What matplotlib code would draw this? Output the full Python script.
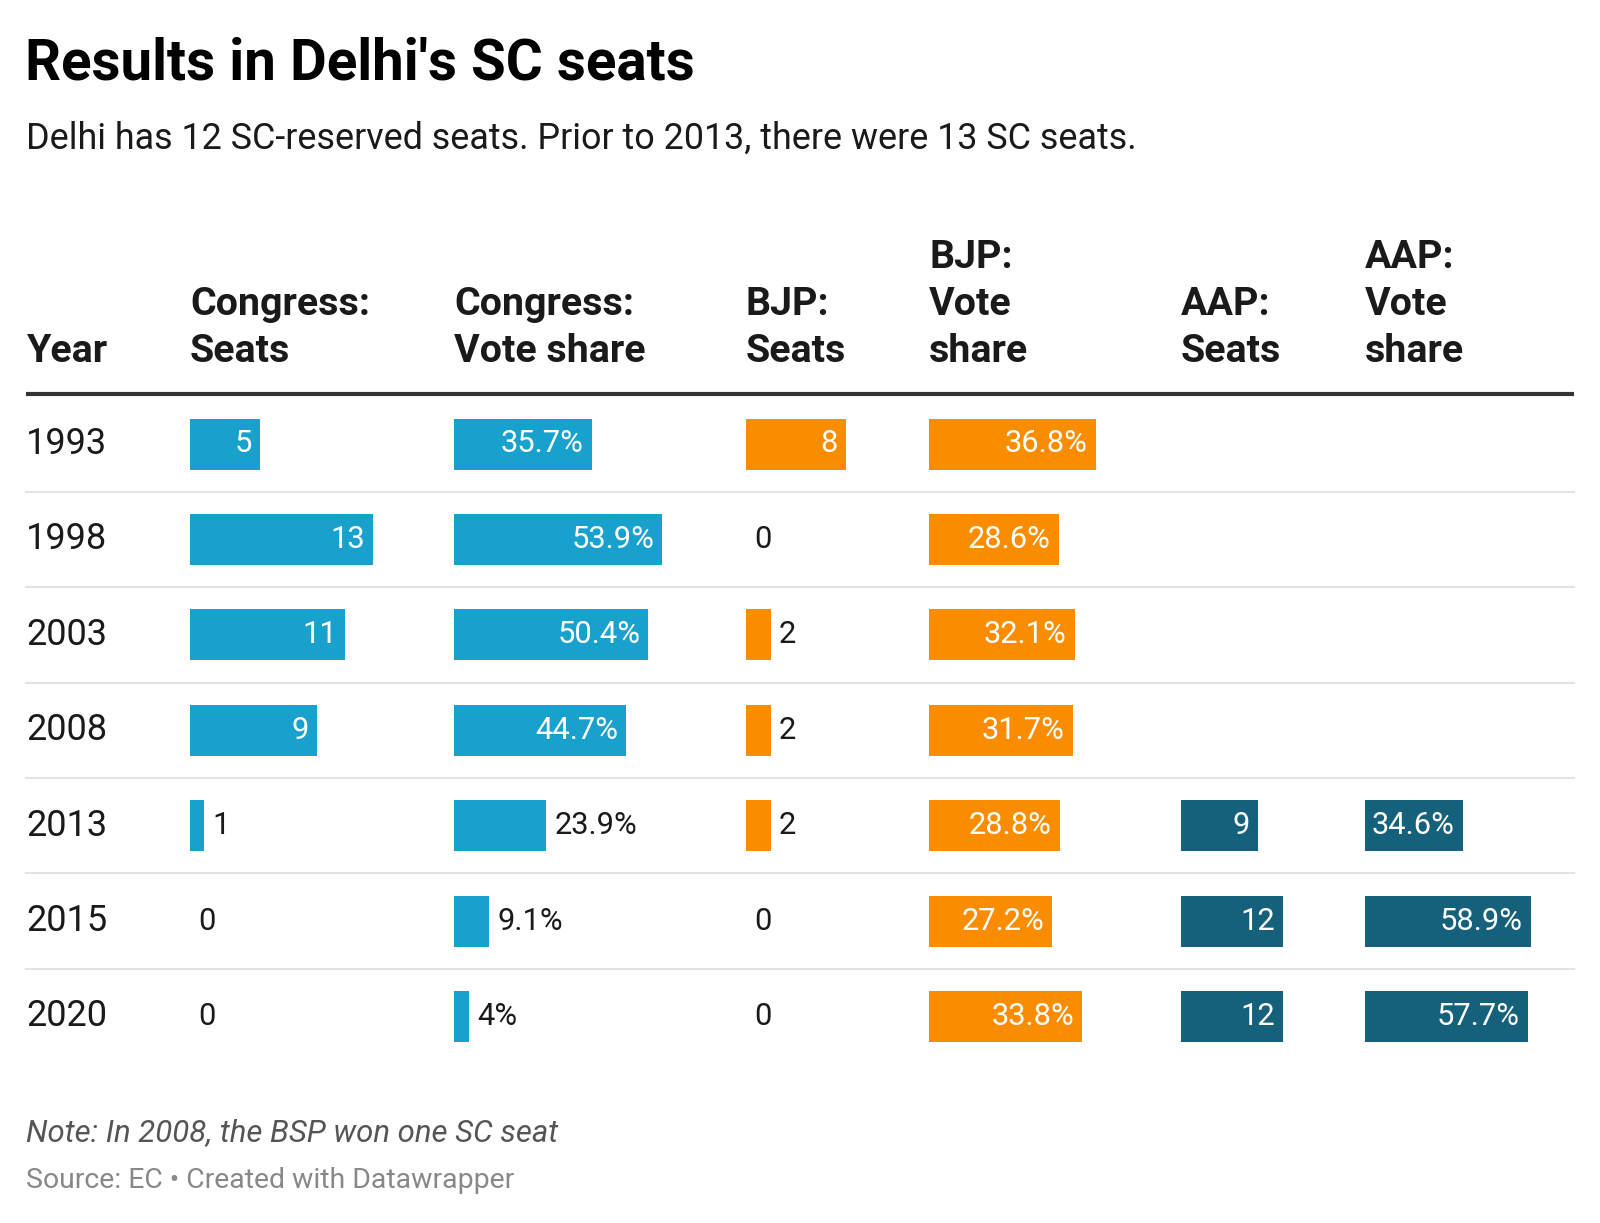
import numpy as np
import matplotlib.pyplot as plt

plt.rcParams['font.family'] = ['Roboto', 'DejaVu Sans']

years = ['1993', '1998', '2003', '2008', '2013', '2015', '2020']
cong_seats = [5, 13, 11, 9, 1, 0, 0]
cong_vote = [35.7, 53.9, 50.4, 44.7, 23.9, 9.1, 4.0]
bjp_seats = [8, 0, 2, 2, 2, 0, 0]
bjp_vote = [36.8, 28.6, 32.1, 31.7, 28.8, 27.2, 33.8]
aap_seats = [np.nan, np.nan, np.nan, np.nan, 9, 12, 12]
aap_vote = [np.nan, np.nan, np.nan, np.nan, 34.6, 58.9, 57.7]

headers = [['Year'], ['Congress:', 'Seats'], ['Congress:', 'Vote share'],
           ['BJP:', 'Seats'], ['BJP:', 'Vote', 'share'],
           ['AAP:', 'Seats'], ['AAP:', 'Vote', 'share']]

BLUE = '#18a1cd'
ORANGE = '#fa8c00'
TEAL = '#15607a'

# (values, colour, x of column, bar width at column max, is percent)
columns = [
    (cong_seats, BLUE, 190, 183, False),
    (cong_vote, BLUE, 454, 208, True),
    (bjp_seats, ORANGE, 746, 100, False),
    (bjp_vote, ORANGE, 929, 167, True),
    (aap_seats, TEAL, 1181, 102, False),
    (aap_vote, TEAL, 1365, 166, True),
]
header_x = [26.5] + [c[2] for c in columns]

W, H = 1600, 1223
fig = plt.figure(figsize=(W / 100, H / 100), dpi=100)
ax = fig.add_axes([0, 0, 1, 1])
ax.set_xlim(0, W)
ax.set_ylim(H, 0)
ax.axis('off')

# title block
ax.text(25, 79, "Results in Delhi's SC seats", fontsize=40.7, fontweight='bold',
        color='#000000', va='baseline')
ax.text(26, 149, 'Delhi has 12 SC-reserved seats. Prior to 2013, there were 13 SC seats.',
        fontsize=25.8, color='#1a1a1a', va='baseline')

# headers, bottom-aligned
line_h = 47
for x, lines in zip(header_x, headers):
    for k, line in enumerate(reversed(lines)):
        ax.text(x, 362 - k * line_h, line, fontsize=28.4, fontweight='bold',
                color='#1a1a1a', va='baseline')

ax.plot([26, 1574], [394, 394], color='#333333', lw=3, solid_capstyle='butt')

row_y = 444 + np.arange(len(years)) * 95.4
bar_h = 51

for i in range(len(years) - 1):
    yy = (row_y[i] + row_y[i + 1]) / 2
    ax.plot([26, 1574], [yy, yy], color='#e3e3e3', lw=1.5)

for y, yr in zip(row_y, years):
    ax.text(26, y, yr, fontsize=26, color='#1a1a1a', va='center')

fig.canvas.draw()
renderer = fig.canvas.get_renderer()

for vals, color, x0, wmax, pct in columns:
    vals = np.array(vals, dtype=float)
    scale = wmax / np.nanmax(vals)
    for y, v in zip(row_y, vals):
        if np.isnan(v):
            continue
        label = f'{v:g}%' if pct else f'{int(v)}'
        w = v * scale
        if v > 0:
            ax.barh(y, w, left=x0, height=bar_h, color=color,
                    edgecolor='none')
        t = ax.text(0, y, label, fontsize=22.2, va='center')
        tw = t.get_window_extent(renderer).width
        if w >= tw + 12:
            t.set_position((x0 + w - 8, y))
            t.set_ha('right')
            t.set_color('white')
        else:
            t.set_position((x0 + w + 8, y))
            t.set_ha('left')
            t.set_color('#1a1a1a')

ax.text(26, 1133, 'Note: In 2008, the BSP won one SC seat', fontsize=22.4,
        style='italic', color='#555555', va='center')
ax.text(26, 1181, 'Source: EC \u2022 Created with Datawrapper', fontsize=20.4,
        color='#888888', va='center')

fig.savefig('out.png', dpi=100, facecolor='white')
